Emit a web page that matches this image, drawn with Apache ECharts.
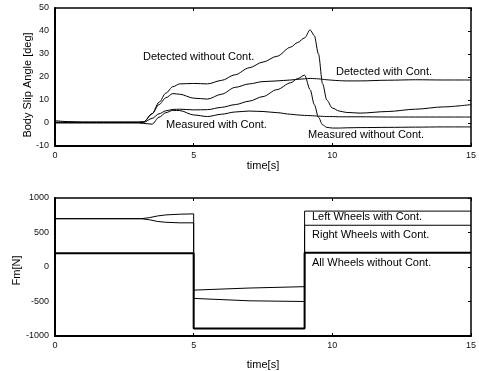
<!DOCTYPE html>
<html>
<head>
<meta charset="utf-8">
<script src="https://cdn.jsdelivr.net/npm/echarts@6/dist/echarts.min.js"></script>
<style>
  html, body { margin: 0; padding: 0; background: #fff; }
  #chart { width: 479px; height: 371px; }
</style>
</head>
<body>
<div id="chart"></div>
<script>
// body slip angle (upper panel)
const slipTime = [0, 0.5, 1, 2, 3, 3.2, 3.5, 3.75, 4, 4.25, 4.5, 5, 5.5, 6, 6.5, 7, 7.5, 8, 8.5, 8.75, 9, 9.2, 9.35, 9.5, 9.65, 9.8, 10, 10.25, 10.5, 11, 12, 13, 14, 15]
const detectedWithout = [1, 0.6, 0.4, 0.4, 0.4, 0.5, 4, 9, 13, 15.8, 17, 17.2, 17, 18.5, 21, 24, 26.5, 29, 33, 35, 37, 40.5, 38, 30, 17, 10, 6.5, 5.2, 4.6, 4.3, 5, 6, 7, 8]
const detectedWith = [0.3, 0.3, 0.3, 0.3, 0.3, 0.5, 4, 8, 11, 12.8, 12.5, 10.8, 10.4, 12.5, 15.5, 17, 18, 18.3, 18.7, 19, 19.2, 19.4, 19.3, 19.2, 19, 18.8, 18.6, 18.4, 18.3, 18.3, 18.6, 18.8, 18.7, 18.7]
const measuredWithout = [0.3, 0.3, 0.3, 0.3, 0.3, 0.3, 2, 4, 5.3, 5.9, 6, 5.7, 5.8, 6.8, 8, 9.5, 11.5, 14.5, 17.5, 19.3, 20.8, 14.5, 8, 2.5, -0.8, -1.9, -2.2, -2.2, -2.1, -2, -1.9, -1.8, -1.7, -1.7]
const measuredWith = [0, 0, 0, 0, 0, -0.2, -0.5, 2.5, 4.5, 5.5, 5.4, 3.5, 2.8, 3.8, 4.8, 5.2, 5, 4.5, 3.8, 3.5, 3.3, 3.2, 3.1, 3, 2.9, 2.8, 2.8, 2.7, 2.7, 2.7, 2.6, 2.6, 2.6, 2.6]

// Fm (lower panel)
const wheelTime = [0, 3.1, 3.4, 3.7, 4, 4.5, 5, 5, 7, 9, 9, 15]
const leftWheels = [700, 700, 715, 740, 755, 765, 770, -335, -305, -285, 810, 810]
const rightWheels = [700, 700, 685, 660, 648, 640, 640, -455, -490, -500, 605, 605]
const allTime = [0, 5, 5, 9, 9, 15]
const allWheels = [200, 200, -890, -890, 205, 205]

const slipLabels = [
  { text: 'Detected without Cont.', x: 143, y: 57 },
  { text: 'Detected with Cont.', x: 336, y: 72 },
  { text: 'Measured with Cont.', x: 166, y: 125 },
  { text: 'Measured without Cont.', x: 308, y: 135 }
]
const wheelLabels = [
  { text: 'Left Wheels with Cont.', x: 312, y: 217 },
  { text: 'Right Wheels with Cont.', x: 312, y: 235 },
  { text: 'All Wheels without Cont.', x: 312, y: 263 }
]

const FONT = '"Liberation Sans", Arial, sans-serif'

function pairs(xs, ys) {
  return xs.map((x, i) => [x, ys[i]])
}

function mainX(gridIndex, nameGap) {
  return {
    type: 'value', gridIndex, min: 0, max: 15, interval: 5,
    name: 'time[s]', nameLocation: 'middle', nameGap,
    nameTextStyle: { fontFamily: FONT, fontSize: 11, color: '#000' },
    axisLine: { show: true, onZero: false, lineStyle: { color: '#000', width: 2 } },
    axisTick: { show: true, inside: true, length: 3, lineStyle: { color: '#000' } },
    axisLabel: { fontFamily: FONT, fontSize: 9, color: '#111', margin: 5, formatter: v => String(v) },
    splitLine: { show: false }
  }
}

function sideX(gridIndex) {
  return {
    type: 'value', gridIndex, position: 'top', min: 0, max: 15, interval: 5,
    axisLine: { show: true, onZero: false, lineStyle: { color: '#000', width: 1.5 } },
    axisTick: { show: true, inside: true, length: 3, lineStyle: { color: '#000' } },
    axisLabel: { show: false },
    splitLine: { show: false }
  }
}

function mainY(gridIndex, min, max, interval, name, nameGap, shift) {
  return {
    type: 'value', gridIndex, min, max, interval,
    name, nameLocation: 'middle', nameGap, nameMoveOverlap: false,
    nameTextStyle: { fontFamily: FONT, fontSize: 11, color: '#000', padding: [0, shift, 0, 0] },
    axisLine: { show: true, onZero: false, lineStyle: { color: '#000', width: 2 } },
    axisTick: { show: false },
    axisLabel: { fontFamily: FONT, fontSize: 9, color: '#111', margin: 6, formatter: v => String(v) },
    splitLine: { show: false }
  }
}

function sideY(gridIndex, min, max, interval) {
  return {
    type: 'value', gridIndex, position: 'right', min, max, interval,
    axisLine: { show: true, onZero: false, lineStyle: { color: '#000', width: 1.5 } },
    axisTick: { show: true, inside: true, length: 3, lineStyle: { color: '#000' } },
    axisLabel: { show: false },
    splitLine: { show: false }
  }
}

function curve(data, xIdx, yIdx, width, smooth) {
  return {
    type: 'line', xAxisIndex: xIdx, yAxisIndex: yIdx, data,
    symbol: 'none', smooth, smoothMonotone: smooth ? 'x' : undefined,
    lineStyle: { color: '#000', width }, silent: true, animation: false
  }
}

function textItems(list) {
  return list.map(l => ({
    type: 'text', x: l.x, y: l.y,
    style: { text: l.text, font: '11px ' + FONT, fill: '#000', verticalAlign: 'middle' }
  }))
}

const chart = echarts.init(document.getElementById('chart'))

chart.setOption({
  backgroundColor: '#fff',
  animation: false,
  grid: [
    { left: 55, right: 8, top: 8, height: 138, outerBoundsMode: 'none' },
    { left: 55, right: 8, top: 198, height: 138, outerBoundsMode: 'none' }
  ],
  xAxis: [mainX(0, 13), sideX(0), mainX(1, 23), sideX(1)],
  yAxis: [
    mainY(0, -10, 50, 10, 'Body Slip Angle [deg]', 22, 16),
    sideY(0, -10, 50, 10),
    mainY(1, -1000, 1000, 500, 'Fm[N]', 33, 7),
    sideY(1, -1000, 1000, 500)
  ],
  series: [
    curve(pairs(slipTime, detectedWithout), 0, 0, 1, 0.3),
    curve(pairs(slipTime, detectedWith), 0, 0, 1, 0.3),
    curve(pairs(slipTime, measuredWithout), 0, 0, 1, 0.3),
    curve(pairs(slipTime, measuredWith), 0, 0, 1, 0.3),
    curve(pairs(wheelTime, leftWheels), 2, 2, 1, false),
    curve(pairs(wheelTime, rightWheels), 2, 2, 1, false),
    curve(pairs(allTime, allWheels), 2, 2, 2, false)
  ],
  graphic: textItems(slipLabels).concat(textItems(wheelLabels))
})
</script>
</body>
</html>
